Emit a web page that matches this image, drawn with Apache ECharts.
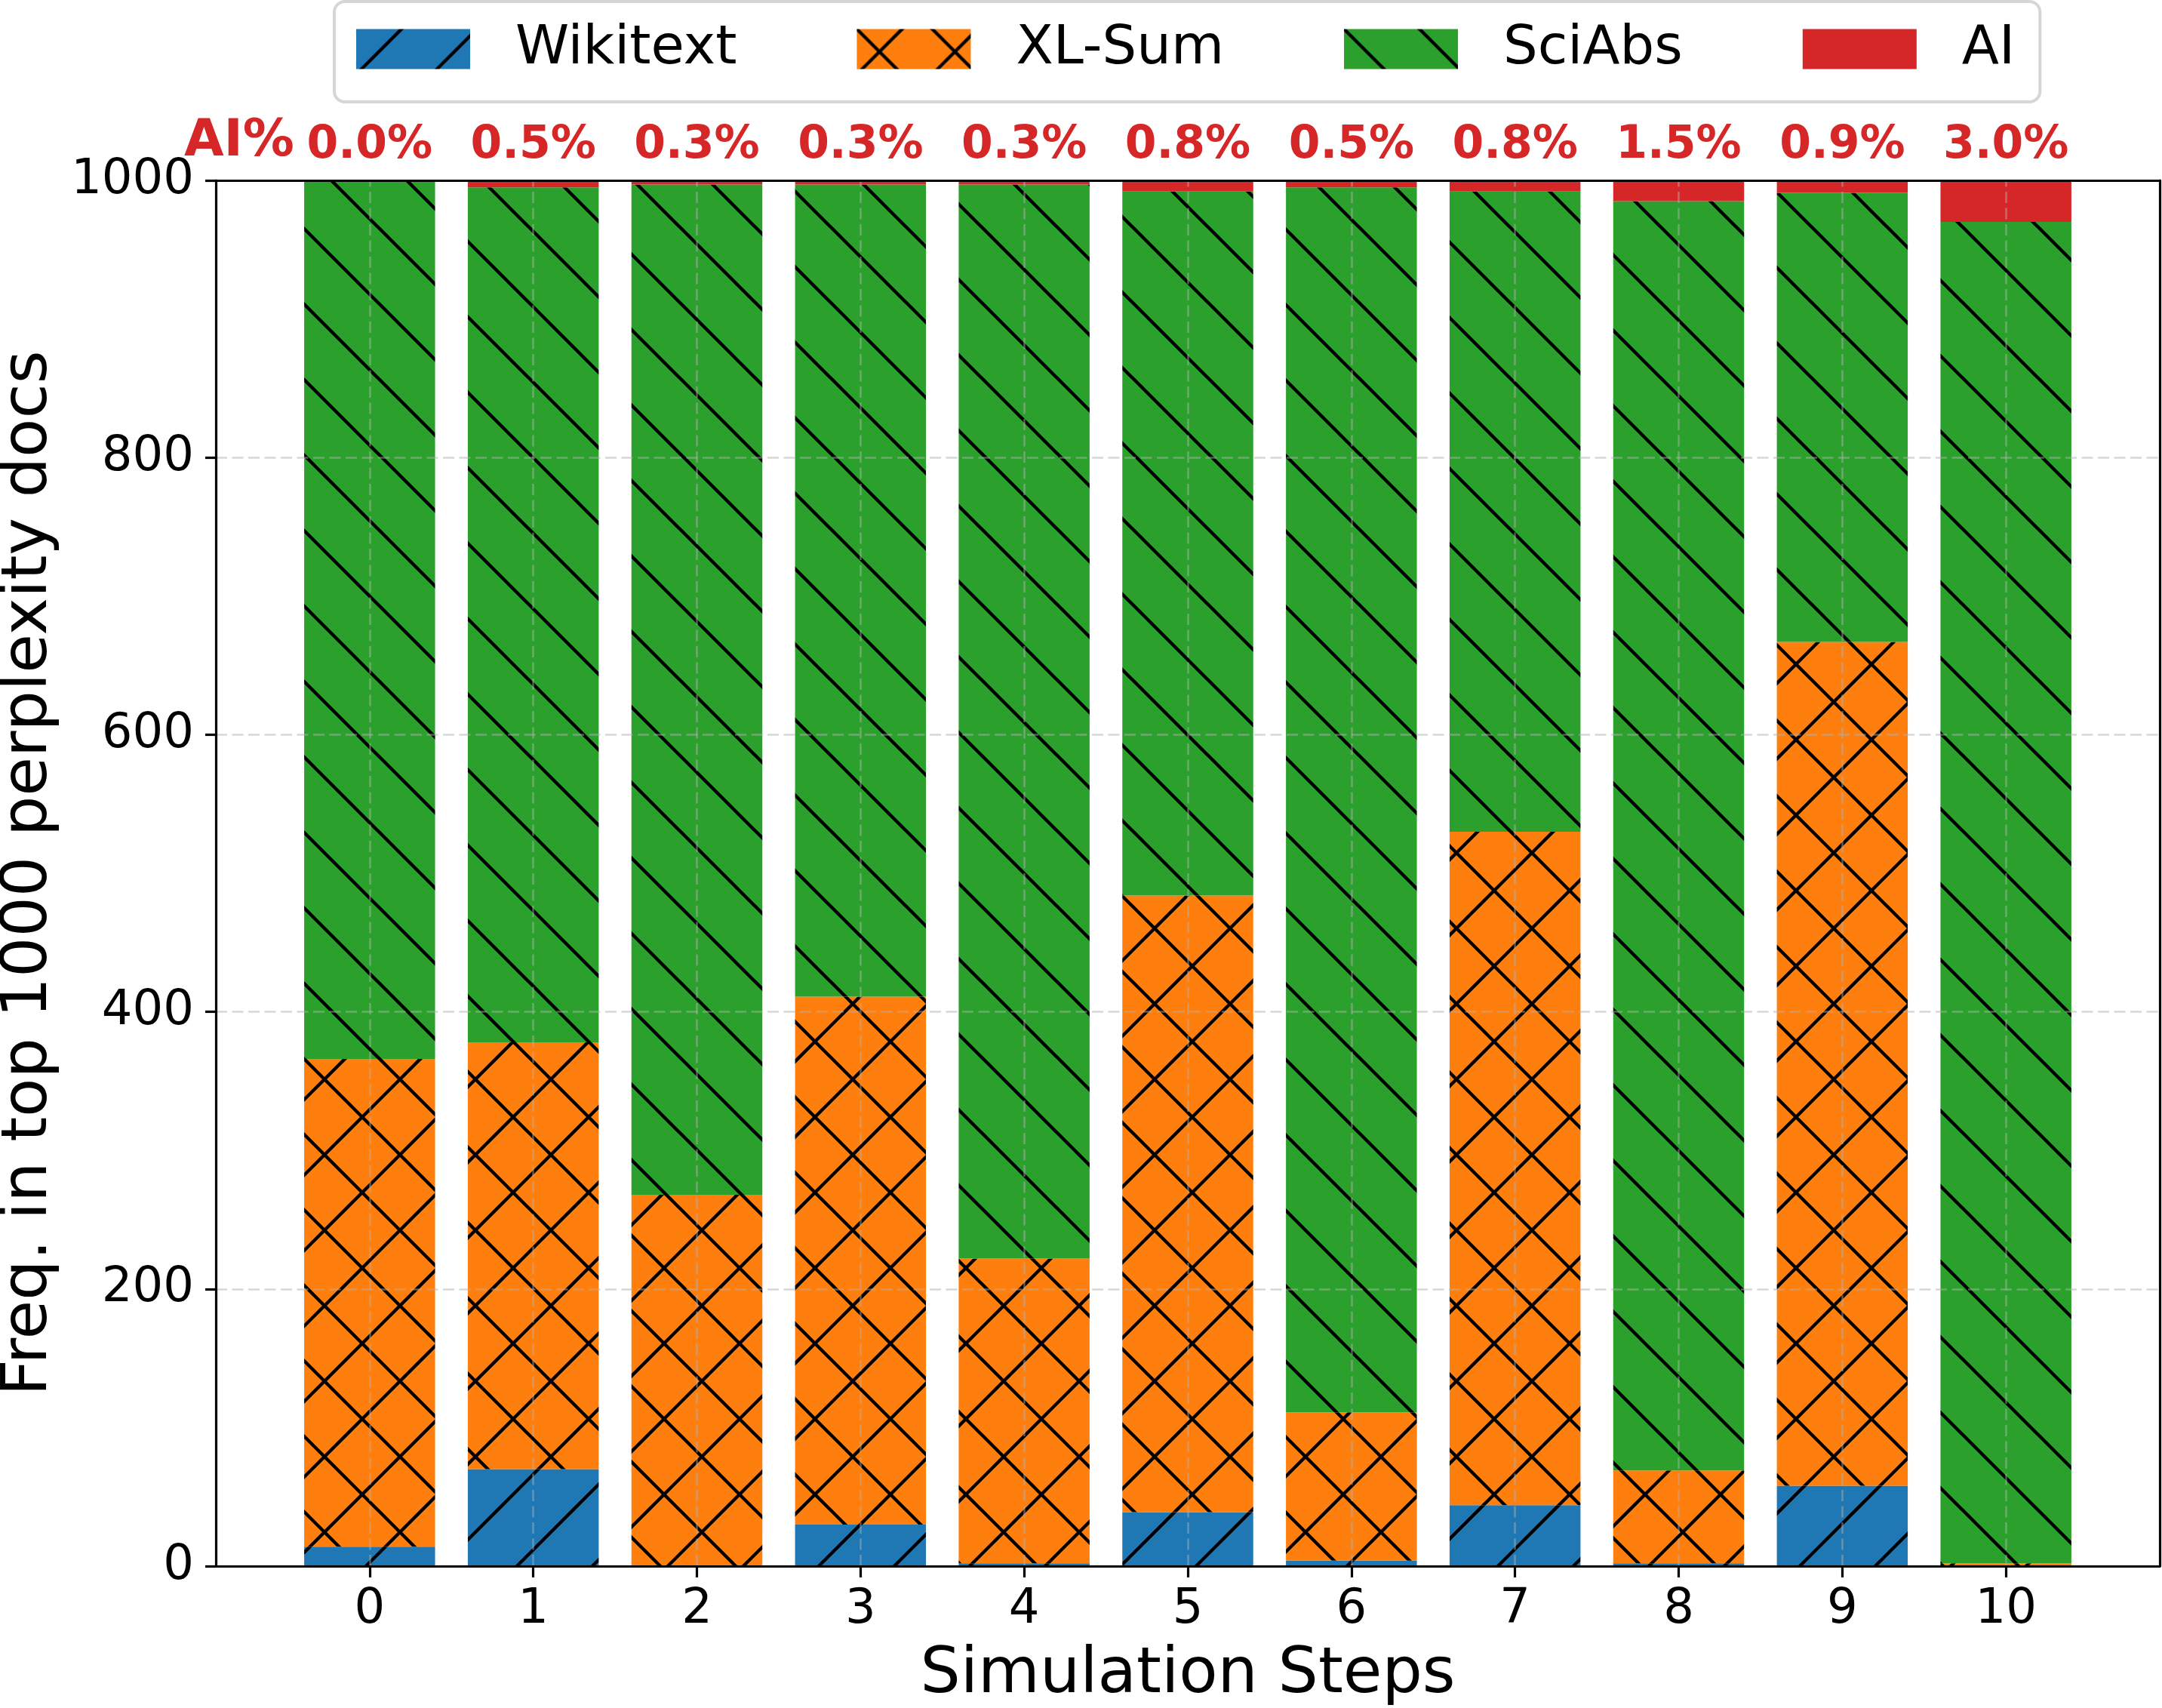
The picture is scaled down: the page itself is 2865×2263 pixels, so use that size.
<!DOCTYPE html>
<html><head><meta charset="utf-8">
<script src="https://cdn.jsdelivr.net/npm/echarts@6/dist/echarts.min.js"></script>
<style>html,body{margin:0;padding:0;background:#fff}#c{width:2865px;height:2263px}</style>
</head><body><div id="c"></div>
<script>
// ---- data ----
const steps    = [0, 1, 2, 3, 4, 5, 6, 7, 8, 9, 10];
const wikitext = [14, 70, 0, 30, 2, 39, 4, 44, 2, 58, 0];
const xlsum    = [352, 308, 268, 381, 220, 445, 107, 486, 67, 609, 2];
const sciabs   = [634, 617, 729, 586, 775, 508, 884, 462, 916, 324, 968];
const ai       = [0, 5, 3, 3, 3, 8, 5, 8, 15, 9, 30];
const yTicks   = [0, 200, 400, 600, 800, 1000];
const seriesNames = ['Wikitext', 'XL-Sum', 'SciAbs', 'AI'];

// ---- hatch patterns ----
function hatch(bg, dirs) {
  const s = 100;
  const cv = document.createElement('canvas'); cv.width = s; cv.height = s;
  const g = cv.getContext('2d');
  g.fillStyle = bg; g.fillRect(0, 0, s, s);
  g.strokeStyle = '#000'; g.lineWidth = 4.4;
  for (const d of dirs) {
    for (let k = -3; k <= 3; k++) {
      g.beginPath();
      if (d === '/') { const c = 60 + k * s; g.moveTo(-s, c + s); g.lineTo(2 * s, c - 2 * s); }
      else { const c = k * s; g.moveTo(-s, -s - c); g.lineTo(2 * s, 2 * s - c); }
      g.stroke();
    }
  }
  return { image: cv, repeat: 'repeat' };
}
const colors = [
  hatch('#1f77b4', ['/']),
  hatch('#ff7f0e', ['/', '\\']),
  hatch('#2ca02c', ['\\']),
  '#d62728'
];
const FONT = 'DejaVu Sans';

function barSeries(i, vals, extra) {
  return Object.assign({
    name: seriesNames[i], type: 'bar', stack: 'total', barWidth: '80%',
    encode: { x: 1, y: 0 },
    data: vals.map((v, j) => [v, steps[j]]),
    itemStyle: { color: colors[i] },
    emphasis: { disabled: true }
  }, extra || {});
}

const gridDash = { type: [15, 6.5], color: 'rgba(176,176,176,0.5)', width: 2.5 };
const axisLineStyle = { color: '#000', width: 3.2 };

const option = {
  animation: false,
  backgroundColor: '#fff',
  grid: { left: 286, top: 239, right: 3, bottom: 188, containLabel: false, outerBoundsMode: 'none' },
  legend: {
    data: seriesNames, left: 443, top: 2, icon: 'rect', selectedMode: false,
    itemWidth: 151, itemHeight: 53, itemGap: 159,
    padding: [27, 33, 34, 29],
    borderColor: '#d6d6d6', borderWidth: 4, borderRadius: 14, backgroundColor: '#fff',
    textStyle: { fontFamily: FONT, fontSize: 72, color: '#000', padding: [0, 0, 0, 55] }
  },
  xAxis: [{
    type: 'value', min: -0.94, max: 10.94, z: 10,
    name: 'Simulation Steps', nameLocation: 'middle', nameGap: 103,
    nameTextStyle: { fontFamily: FONT, fontSize: 84, color: '#000' },
    axisLine: { show: true, onZero: false, lineStyle: axisLineStyle },
    axisTick: { show: true, length: 15, lineStyle: axisLineStyle, customValues: steps },
    axisLabel: { fontFamily: FONT, fontSize: 64, color: '#000', margin: 26, customValues: steps },
    splitLine: { show: false }
  }, {
    type: 'value', position: 'top', min: -0.94, max: 10.94, z: 10,
    axisLine: { show: true, onZero: false, lineStyle: axisLineStyle },
    axisTick: { show: false }, axisLabel: { show: false }, splitLine: { show: false }
  }],
  yAxis: [{
    type: 'value', min: 0, max: 1000, interval: 200, z: 10,
    name: 'Freq. in top 1000 perplexity docs', nameLocation: 'middle', nameGap: 205,
    nameTextStyle: { fontFamily: FONT, fontSize: 84, color: '#000' },
    axisLine: { show: true, onZero: false, lineStyle: axisLineStyle },
    axisTick: { show: true, length: 14, lineStyle: axisLineStyle },
    axisLabel: { fontFamily: FONT, fontSize: 64, color: '#000', margin: 29, formatter: v => String(v) },
    splitLine: { show: false }
  }, {
    type: 'value', position: 'right', min: 0, max: 1000, z: 10,
    axisLine: { show: true, onZero: false, lineStyle: axisLineStyle },
    axisTick: { show: false }, axisLabel: { show: false }, splitLine: { show: false }
  }],
  graphic: [{
    type: 'text', z: 20,
    style: { text: 'AI%', x: 390, y: 188, align: 'right', verticalAlign: 'middle',
      font: 'bold 68px "DejaVu Sans"', fill: '#d62728' }
  }],
  series: [
    barSeries(0, wikitext),
    barSeries(1, xlsum),
    barSeries(2, sciabs),
    barSeries(3, ai, {
      z: 3,
      label: {
        show: true, position: 'top', distance: 16,
        formatter: p => (p.value[0] / 10).toFixed(1) + '%',
        fontFamily: FONT, fontWeight: 'bold', fontSize: 60, color: '#d62728'
      },
      markLine: {
        silent: true, symbol: 'none', label: { show: false }, lineStyle: gridDash,
        data: yTicks.filter(v => v > 0 && v < 1000).map(v => ({ yAxis: v }))
          .concat(steps.map(s => ({ xAxis: s })))
      }
    })
  ]
};
const chart = echarts.init(document.getElementById('c'), null, { renderer: 'canvas' });
chart.setOption(option);
</script></body></html>
